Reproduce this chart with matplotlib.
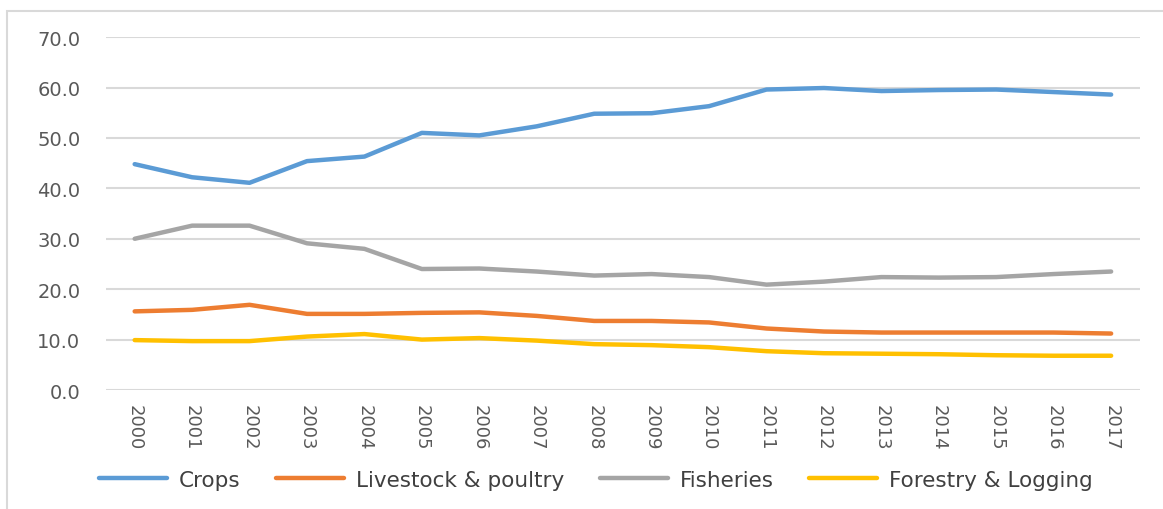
import matplotlib
matplotlib.use("Agg")
import matplotlib.pyplot as plt
from matplotlib.patches import Rectangle

years = [str(y) for y in range(2000, 2018)]

crops = [44.8, 42.2, 41.1, 45.4, 46.3, 51.0, 50.5, 52.3, 54.8, 54.9,
         56.3, 59.6, 59.9, 59.3, 59.5, 59.6, 59.1, 58.6]
livestock = [15.6, 15.9, 16.9, 15.1, 15.1, 15.3, 15.4, 14.7, 13.7, 13.7,
             13.4, 12.2, 11.6, 11.4, 11.4, 11.4, 11.4, 11.2]
fisheries = [30.0, 32.6, 32.6, 29.1, 28.0, 24.0, 24.1, 23.5, 22.7, 23.0,
             22.4, 20.9, 21.5, 22.4, 22.3, 22.4, 23.0, 23.5]
forestry = [9.9, 9.7, 9.7, 10.6, 11.1, 10.0, 10.3, 9.8, 9.1, 8.9,
            8.5, 7.7, 7.3, 7.2, 7.1, 6.9, 6.8, 6.8]

series = [
    ("Crops", crops, "#5B9BD5"),
    ("Livestock & poultry", livestock, "#ED7D31"),
    ("Fisheries", fisheries, "#A5A5A5"),
    ("Forestry & Logging", forestry, "#FFC000"),
]

plt.rcParams["font.family"] = ["DejaVu Sans"]

fig = plt.figure(figsize=(11.63, 5.10), dpi=100)
ax = fig.add_axes([0.0911, 0.2333, 0.889, 0.692])

# outer chart-area border
fig.patches.append(Rectangle((7 / 1163, -0.1), 1.2, 1 - 12 / 510 + 0.1,
                             transform=fig.transFigure, fill=False,
                             edgecolor="#d9d9d9", linewidth=1.5))

x = list(range(len(years)))
for name, vals, color in series:
    ax.plot(x, vals, color=color, linewidth=3.2, label=name,
            solid_capstyle="round", solid_joinstyle="round")

ax.set_xlim(-0.5, len(years) - 0.5)
ax.set_ylim(0, 70)
ax.set_yticks(range(0, 71, 10))
ax.set_yticklabels([f"{v:.1f}" for v in range(0, 71, 10)])
ax.set_xticks(x)
ax.set_xticklabels(years, rotation=-90)
ax.tick_params(axis="both", length=0, colors="#595959")
ax.tick_params(axis="y", pad=18.5, labelsize=14)
ax.tick_params(axis="x", pad=10, labelsize=13)
ax.grid(axis="y", color="#d9d9d9", linewidth=1.5)
ax.set_axisbelow(True)
for s in ax.spines.values():
    s.set_visible(False)

fig.legend(loc="center", bbox_to_anchor=(0.5125, 0.057), ncol=4,
           frameon=False, fontsize=15.5, handlelength=3.15,
           handletextpad=0.56, columnspacing=1.65, labelcolor="#404040")

fig.savefig("out.png", dpi=100)
